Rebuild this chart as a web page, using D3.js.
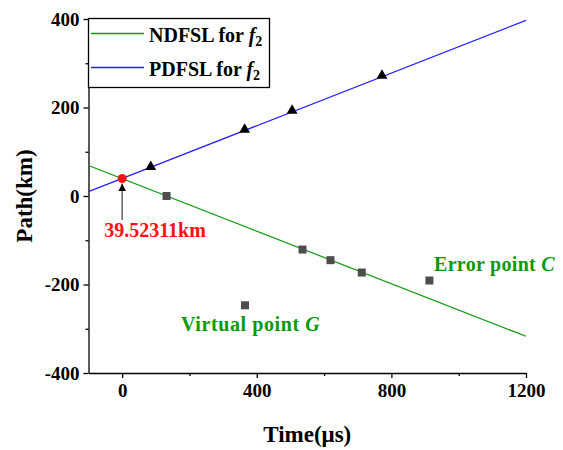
<!DOCTYPE html>
<html>
<head>
<meta charset="utf-8">
<script src="https://cdn.jsdelivr.net/npm/d3@7"></script>
<style>
  body { margin: 0; background: #fff; }
  text { font-family: "Liberation Serif", "Times New Roman", serif; font-weight: bold; }
</style>
</head>
<body>
<div class="chart"></div>
<script>
var svgWidth = 563;
var svgHeight = 450;

// data
var triTime = [85, 364, 505, 772];
var triPath = [66, 150, 193, 272];
var sqTime = [132, 365, 536, 619, 712, 913];
var sqPath = [0, -247, -121, -145, -173, -191];
var ndfslEnds = [[-100, 69], [1200, -317]];
var pdfslEnds = [[-100, 10], [1200, 397]];
var crossPoint = [0, 39.52311];
var xTicks = [0, 400, 800, 1200];
var xMinor = [200, 600, 1000];
var yTicks = [-400, -200, 0, 200, 400];
var yMinor = [-300, -100, 100, 300];

var green = "#0a9a0a";
var blue = "#2020ff";

var svg = d3.select(".chart")
  .append("svg")
  .attr("width", svgWidth)
  .attr("height", svgHeight);

var x = d3.scaleLinear().domain([-100, 1200]).range([88.5, 526]);
var y = d3.scaleLinear().domain([-400, 400]).range([373, 19]);

var fmt = d => String(d);

// axes
svg.append("g")
  .attr("class", "axis")
  .attr("transform", `translate(0, ${y(-400)})`)
  .call(d3.axisBottom(x).tickValues(xTicks).tickFormat(fmt).tickSize(5).tickSizeOuter(0).tickPadding(6));
svg.append("g")
  .attr("class", "axis")
  .attr("transform", `translate(0, ${y(-400)})`)
  .call(d3.axisBottom(x).tickValues(xMinor).tickSize(3).tickSizeOuter(0).tickFormat(""))
  .select(".domain").remove();

svg.append("g")
  .attr("class", "axis")
  .attr("transform", `translate(${x(-100)}, 0)`)
  .call(d3.axisLeft(y).tickValues(yTicks).tickFormat(fmt).tickSize(5).tickSizeOuter(0).tickPadding(4));
svg.append("g")
  .attr("class", "axis")
  .attr("transform", `translate(${x(-100)}, 0)`)
  .call(d3.axisLeft(y).tickValues(yMinor).tickSize(3).tickSizeOuter(0).tickFormat(""))
  .select(".domain").remove();

svg.selectAll(".axis .domain, .axis .tick line")
  .attr("stroke", "#000")
  .attr("stroke-width", 1.3);
svg.selectAll(".axis .tick text")
  .attr("fill", "#000")
  .style("font-size", "19px");

// axis titles
svg.append("text")
  .attr("x", (x(-100) + x(1200)) / 2)
  .attr("y", 442)
  .attr("text-anchor", "middle")
  .style("font-size", "23px")
  .text("Time(μs)");

svg.append("text")
  .attr("transform", `translate(32, ${(y(400) + y(-400)) / 2}) rotate(-90)`)
  .attr("text-anchor", "middle")
  .style("font-size", "23px")
  .text("Path(km)");

// fitted lines
var line = d3.line().x(d => x(d[0])).y(d => y(d[1]));

svg.append("path")
  .datum(ndfslEnds)
  .attr("d", line)
  .attr("fill", "none")
  .attr("stroke", green)
  .attr("stroke-width", 1.2);

svg.append("path")
  .datum(pdfslEnds)
  .attr("d", line)
  .attr("fill", "none")
  .attr("stroke", blue)
  .attr("stroke-width", 1.2);

// squares
svg.selectAll("rect.sq")
  .data(sqTime)
  .enter()
  .append("rect")
  .attr("class", "sq")
  .attr("x", d => x(d) - 4)
  .attr("y", (d, i) => y(sqPath[i]) - 4)
  .attr("width", 8)
  .attr("height", 8)
  .attr("fill", "#4d4d4d");

// triangles
var tri = d3.symbol().type(d3.symbolTriangle).size(52);
svg.selectAll("path.tri")
  .data(triTime)
  .enter()
  .append("path")
  .attr("class", "tri")
  .attr("d", tri)
  .attr("transform", (d, i) => `translate(${x(d)}, ${y(triPath[i])})`)
  .attr("fill", "#000");

// arrow to crossing point
svg.append("defs").append("marker")
  .attr("id", "head")
  .attr("viewBox", "0 0 10 10")
  .attr("refX", 10)
  .attr("refY", 5)
  .attr("markerWidth", 5)
  .attr("markerHeight", 5)
  .attr("orient", "auto")
  .append("path")
  .attr("d", "M0,0L10,5L0,10z")
  .attr("fill", "#000");

svg.append("line")
  .attr("x1", x(crossPoint[0]))
  .attr("x2", x(crossPoint[0]))
  .attr("y1", 220)
  .attr("y2", y(crossPoint[1]) + 5)
  .attr("stroke", "#666")
  .attr("stroke-width", 1.5)
  .attr("marker-end", "url(#head)");

svg.append("circle")
  .attr("cx", x(crossPoint[0]))
  .attr("cy", y(crossPoint[1]))
  .attr("r", 4.5)
  .attr("fill", "#ff1010");

svg.append("text")
  .attr("x", 155)
  .attr("y", 237)
  .attr("text-anchor", "middle")
  .attr("fill", "#ff1010")
  .style("font-size", "20px")
  .text(crossPoint[1] + "km");

// annotations
var vg = svg.append("text")
  .attr("x", 181)
  .attr("y", 331)
  .attr("fill", green)
  .style("font-size", "20px")
  .style("letter-spacing", "0.6px");
vg.append("tspan").text("Virtual point ");
vg.append("tspan").style("font-style", "italic").text("G");

var ec = svg.append("text")
  .attr("x", 434)
  .attr("y", 271)
  .attr("fill", green)
  .style("font-size", "20px")
  .style("letter-spacing", "0.3px");
ec.append("tspan").text("Error point ");
ec.append("tspan").style("font-style", "italic").text("C");

// legend
var legend = svg.append("g");
legend.append("rect")
  .attr("x", x(-100))
  .attr("y", 18.5)
  .attr("width", 181)
  .attr("height", 69)
  .attr("fill", "#fff")
  .attr("stroke", "#000")
  .attr("stroke-width", 1.3);

var legendItems = [["NDFSL", green], ["PDFSL", blue]];
legendItems.forEach(function(item, i) {
  var ly = 33.5 + i * 34;
  legend.append("line")
    .attr("x1", 91)
    .attr("x2", 144)
    .attr("y1", ly)
    .attr("y2", ly)
    .style("stroke", item[1])
    .style("stroke-width", "1.3px");
  var t = legend.append("text")
    .attr("x", 149)
    .attr("y", ly + 8)
    .style("font-size", "20px");
  t.append("tspan").text(item[0] + " for ");
  t.append("tspan").style("font-style", "italic").text("f");
  t.append("tspan").attr("dy", 4).style("font-size", "14px").text("2");
});
</script>
</body>
</html>
